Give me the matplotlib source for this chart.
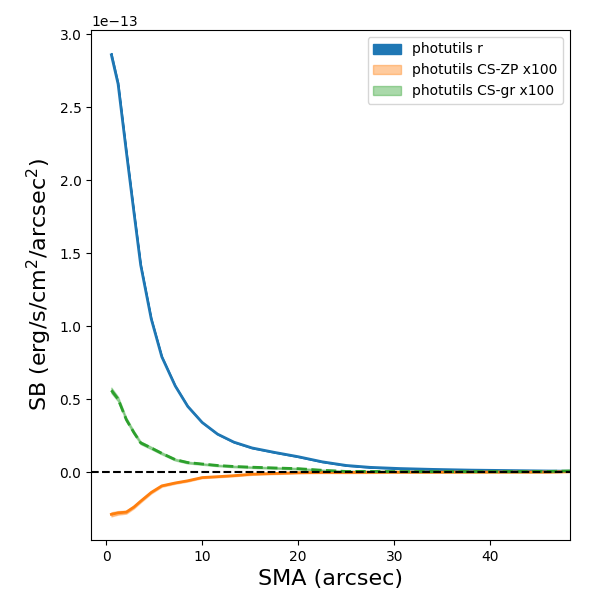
import numpy as np
import matplotlib
matplotlib.use("Agg")
import matplotlib.pyplot as plt

sma = [0.55, 1.25, 2.1, 2.9, 3.6, 4.7, 5.8, 7.2, 8.5, 10.0, 11.6, 13.3, 15.2,
       17.5, 20.0, 22.5, 25.0, 27.5, 30.5, 34.0, 38.0, 42.0, 46.0, 48.5]
sb_r = [2.86, 2.66, 2.20, 1.78, 1.42, 1.05, 0.79, 0.59, 0.45, 0.34, 0.26, 0.205,
        0.165, 0.135, 0.105, 0.07, 0.045, 0.032, 0.024, 0.018, 0.013, 0.010,
        0.007, 0.005]
err_r = [0.012, 0.010, 0.008, 0.007, 0.006, 0.005, 0.004, 0.003, 0.003, 0.002,
         0.002, 0.002, 0.002, 0.002, 0.002, 0.002, 0.002, 0.002, 0.002, 0.002,
         0.002, 0.002, 0.002, 0.002]
sb_zp = [-0.29, -0.28, -0.275, -0.24, -0.20, -0.14, -0.095, -0.075, -0.06, -0.038,
         -0.032, -0.025, -0.015, -0.01, -0.005, -0.003, -0.003, -0.002, -0.001,
         -0.001, 0.0, 0.0, 0.0, 0.003]
err_zp = [0.014, 0.012, 0.010, 0.009, 0.008, 0.007, 0.006, 0.005, 0.005, 0.004,
          0.004, 0.004, 0.004, 0.004, 0.004, 0.004, 0.004, 0.004, 0.004, 0.004,
          0.004, 0.004, 0.004, 0.004]
sb_gr = [0.56, 0.50, 0.36, 0.27, 0.20, 0.165, 0.128, 0.085, 0.065, 0.055, 0.045,
         0.038, 0.033, 0.028, 0.023, 0.012, 0.004, 0.004, 0.003, 0.003, 0.003,
         0.003, 0.004, 0.008]
err_gr = [0.018, 0.015, 0.012, 0.010, 0.009, 0.008, 0.007, 0.006, 0.006, 0.005,
          0.005, 0.005, 0.005, 0.005, 0.005, 0.005, 0.005, 0.005, 0.005, 0.005,
          0.005, 0.005, 0.005, 0.005]

scale = 1e-13
x = np.array(sma)
r = np.array(sb_r) * scale
er = np.array(err_r) * scale
zp = np.array(sb_zp) * scale
ezp = np.array(err_zp) * scale
gr = np.array(sb_gr) * scale
egr = np.array(err_gr) * scale

fig = plt.figure(figsize=(6, 6), dpi=100)
ax = fig.add_axes([0.152, 0.1, 0.798, 0.85])

ax.fill_between(x, r - er, r + er, color='C0', alpha=1.0, label='photutils r')
ax.fill_between(x, zp - ezp, zp + ezp, color='C1', alpha=0.4, label='photutils CS-ZP x100')
ax.fill_between(x, gr - egr, gr + egr, color='C2', alpha=0.4, label='photutils CS-gr x100')
ax.plot(x, r, color='C0', lw=2)
ax.plot(x, zp, color='C1', lw=2)
ax.plot(x, gr, color='C2', lw=2, ls='--')
ax.axhline(0, color='k', ls='--', lw=1.5, zorder=5)

ax.set_xlim(-1.55, 48.3)
ax.set_ylim(-0.466e-13, 3.03e-13)
ax.set_xlabel('SMA (arcsec)', fontsize=16)
ax.set_ylabel('SB (erg/s/cm$^2$/arcsec$^2$)', fontsize=16)
ax.legend(loc='upper right')

fig.savefig('out.png', dpi=100)
